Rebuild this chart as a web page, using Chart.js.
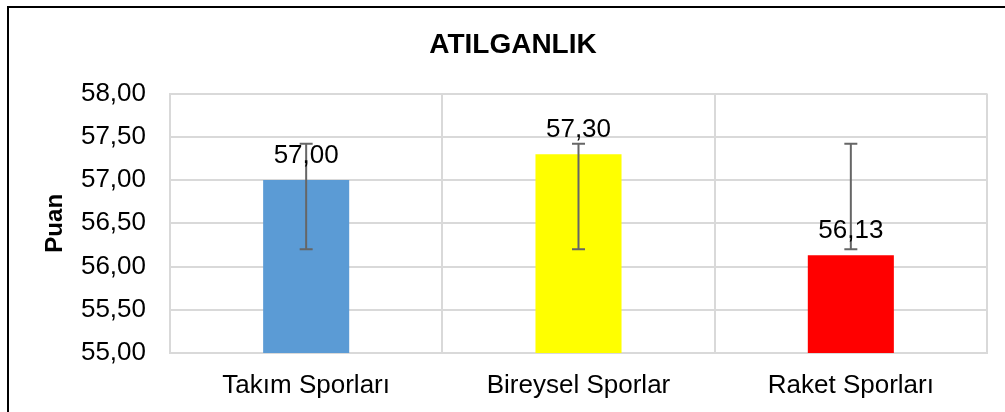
<!DOCTYPE html>
<html>
<head>
<meta charset="utf-8">
<style>
  html, body { margin: 0; padding: 0; background: #fff; }
  #wrap { position: relative; width: 1005px; height: 412px; overflow: hidden; }
  #frame { position: absolute; left: 7px; top: 6px; width: 1100px; height: 500px;
           border-left: 2px solid #000; border-top: 2px solid #000; }
  #myChart { position: absolute; left: 0; top: 0; }
</style>
</head>
<body>
<div id="wrap">
  <div id="frame"></div>
  <canvas id="myChart" width="1005" height="412"></canvas>
</div>

<script src="https://cdn.jsdelivr.net/npm/chart.js@4.4.0/dist/chart.umd.min.js"></script>
<script>
    const labels = ['Takım Sporları', 'Bireysel Sporlar', 'Raket Sporları'];
    const scores = [57.00, 57.30, 56.13];
    const errLow = [56.20, 56.20, 56.20];
    const errHigh = [57.42, 57.42, 57.42];
    const bcolors = ['#5B9BD5', '#FFFF00', '#FF0000'];

    const fmt = v => Number(v).toFixed(2).replace('.', ',');
    const fontName = "'Liberation Sans', Arial, sans-serif";

    // error bars + value labels
    const extras = {
        id: 'extras',
        afterDatasetsDraw(chart) {
            const ctx = chart.ctx;
            const y = chart.scales.y;
            const meta = chart.getDatasetMeta(0);
            ctx.save();
            meta.data.forEach((bar, i) => {
                const x = bar.x;
                const yl = y.getPixelForValue(errLow[i]);
                const yh = y.getPixelForValue(errHigh[i]);
                ctx.strokeStyle = '#666666';
                ctx.lineWidth = 2;
                ctx.beginPath();
                ctx.moveTo(x, yl); ctx.lineTo(x, yh);
                ctx.moveTo(x - 6.5, yl); ctx.lineTo(x + 6.5, yl);
                ctx.moveTo(x - 6.5, yh); ctx.lineTo(x + 6.5, yh);
                ctx.stroke();
            });
            meta.data.forEach((bar, i) => {
                ctx.fillStyle = '#000';
                ctx.font = '26px ' + fontName;
                ctx.textAlign = 'center';
                ctx.textBaseline = 'alphabetic';
                ctx.fillText(fmt(scores[i]), bar.x, bar.y - 17);
            });
            ctx.restore();
        }
    };

    const ctx = document.getElementById('myChart').getContext('2d');
    const myChart = new Chart(ctx, {
        type: 'bar',
        data: {
            labels: labels,
            datasets: [{
                label: 'Puan',
                data: scores,
                backgroundColor: bcolors,
                borderWidth: 0,
                barPercentage: 0.316,
                categoryPercentage: 1
            }]
        },
        options: {
            responsive: false,
            animation: false,
            layout: { padding: { left: 39, right: 18, top: 0, bottom: 0 } },
            plugins: {
                legend: { display: false },
                tooltip: { enabled: false },
                title: {
                    display: true,
                    text: 'ATILGANLIK',
                    color: '#000',
                    font: { family: fontName, size: 28, weight: 'bold' },
                    padding: { top: 28, bottom: 32 }
                }
            },
            scales: {
                y: {
                    min: 55,
                    max: 58,
                    ticks: {
                        stepSize: 0.5,
                        color: '#000',
                        padding: 24,
                        font: { family: fontName, size: 26 },
                        callback: v => fmt(v)
                    },
                    grid: { color: '#d9d9d9', lineWidth: 2, drawTicks: false },
                    border: { color: '#d9d9d9', width: 2 },
                    title: {
                        display: true,
                        text: 'Puan',
                        color: '#000',
                        font: { family: fontName, size: 24, weight: 'bold' },
                        padding: { top: 2, bottom: 0 }
                    },
                    afterFit: s => { s.width = 131; }
                },
                x: {
                    offset: true,
                    ticks: {
                        color: '#000',
                        padding: 17,
                        font: { family: fontName, size: 26 }
                    },
                    grid: { color: '#d9d9d9', lineWidth: 2, drawTicks: false, offset: true },
                    border: { color: '#d9d9d9', width: 2 },
                    afterFit: s => { s.height = 59; }
                }
            }
        },
        plugins: [extras]
    });
</script>
</body>
</html>
